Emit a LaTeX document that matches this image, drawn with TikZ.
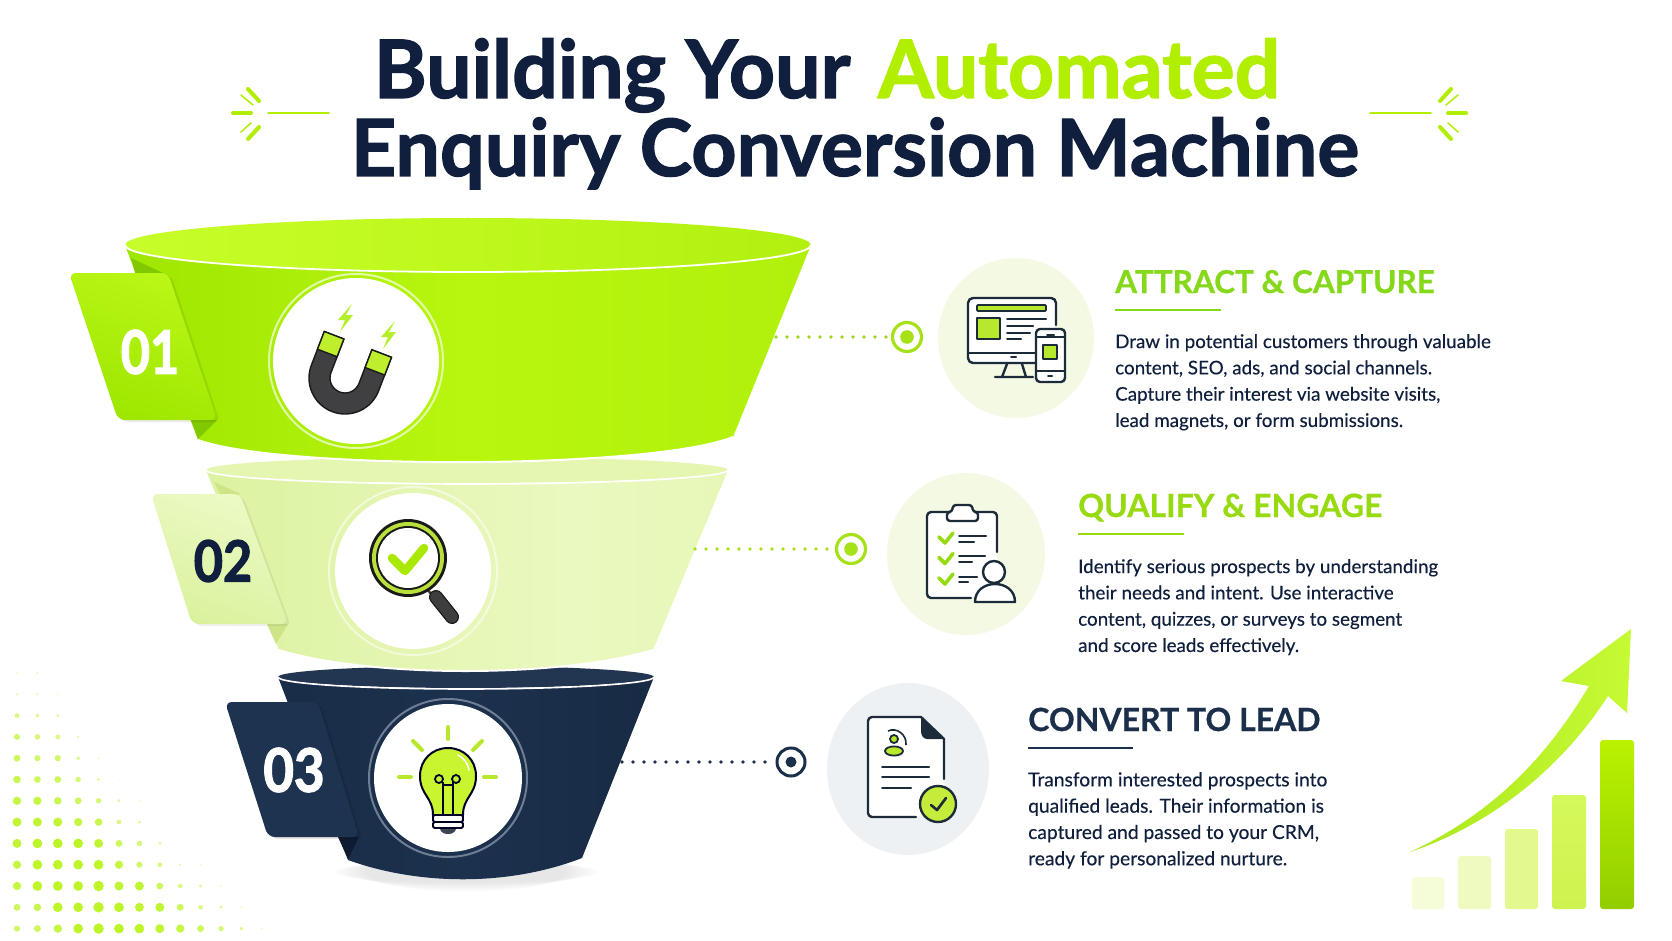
\documentclass[tikz,border=0pt]{standalone}
\usepackage{fontspec}
\setmainfont{Lato}
\newfontfamily\titlef{Lato}[BoldFeatures={FakeBold=1.6}]
\newfontfamily\headf{Lato}[BoldFeatures={FakeBold=0.6}]
\newfontfamily\numf{Lato}[BoldFeatures={FakeBold=2.2}]
\newfontfamily\bodyf{Lato}[FakeBold=0.3]
\usetikzlibrary{calc,shapes.geometric}
\definecolor{navy}{HTML}{0F1F3D}
\definecolor{fnavy}{HTML}{1B2F4B}
\definecolor{icn}{HTML}{1C2B3A}
\definecolor{limeA}{HTML}{B2EE00}
\definecolor{lineG}{HTML}{A6E11A}
\definecolor{headA}{HTML}{86D81A}
\definecolor{headB}{HTML}{97DA10}
\definecolor{paleA}{HTML}{F4F9E4}
\definecolor{paleC}{HTML}{EEF1F4}
\definecolor{iconL}{HTML}{B7E82C}
\definecolor{foa}{HTML}{8EDB00}
\definecolor{fob}{HTML}{9FE600}
\definecolor{foc}{HTML}{B8F60F}
\definecolor{fod}{HTML}{B0F00A}
\definecolor{foe}{HTML}{7DD000}
\definecolor{fta}{HTML}{D6EE92}
\definecolor{ftb}{HTML}{DEF3A5}
\definecolor{ftc}{HTML}{EAF9C0}
\definecolor{ftd}{HTML}{E4F6B2}
\definecolor{fte}{HTML}{D4EE8C}
\definecolor{fha}{HTML}{162842}
\definecolor{fhb}{HTML}{1C314D}
\definecolor{fhc}{HTML}{14243C}
\pgfdeclarehorizontalshading{fone}{100bp}{color(0bp)=(foa);color(25bp)=(fob);color(50bp)=(foc);color(75bp)=(fod);color(100bp)=(foe)}
\pgfdeclarehorizontalshading{ftwo}{100bp}{color(0bp)=(fta);color(30bp)=(ftb);color(60bp)=(ftc);color(85bp)=(ftd);color(100bp)=(fte)}
\pgfdeclarehorizontalshading{fthree}{100bp}{color(0bp)=(fha);color(50bp)=(fhb);color(100bp)=(fhc)}
\tikzset{
  x=1pt,y=-1pt,
  hd/.style={anchor=base west,inner sep=0},
  bodytxt/.style={font=\bodyf\fontsize{18.8}{26.3}\selectfont,anchor=north west,inner sep=0,align=left,text=navy},
  numtxt/.style={font=\numf\fontsize{60}{64}\bfseries\selectfont,inner sep=0},
  titletxt/.style={inner sep=0,anchor=base,text=navy},
  dots/.style={line width=3.8pt,line cap=round,dash pattern=on 0pt off 11pt},
  ic/.style={draw=icn,line width=2.4pt,line cap=round,line join=round},
  spark/.style={draw=limeA,line cap=round},
  rayst/.style={draw=iconL,line width=4pt,line cap=round},
}
\begin{document}
\begin{tikzpicture}
\useasboundingbox (0,0) rectangle (1672,941);
\fill[white] (0,0) rectangle (1672,941);
% halftone
\foreach \row [count=\j from 0] in {{2,2,1},{3,3,2},{6,5,4,1},{8,7,6,3},{9,8,8,5,2},{10,9,9,7,4,1},{11,11,10,9,7,4,2},{12,12,12,11,10,6,4},{12,13,13,13,12,9,7,4,1},{11,13,13,13,13,11,8,6,3,2},{11,13,13,13,14,12,12,9,6,4,2},{9,10,13,13,14,13,12,12,9,6,4,2,1},{8,9,11,13,14,13,13,12,11,9,7,5,2,1}}{
  \foreach \r [count=\i from 0] in \row {
    \pgfmathsetmacro{\op}{min(1,0.22+\r/13*0.78)}
    \fill[color={rgb,255:red,190;green,245;blue,40},opacity=\op] ({17+20.4*\i},{673+21.3*\j}) circle ({\r/2.8+0.2});
  }
}
% title
\node[titletxt,font=\titlef\fontsize{80.5}{82}\bfseries\selectfont] (t1) at (827,98) {Building Your\hspace{0.1em} {\color{limeA}Automated}};
\node[titletxt,font=\titlef\fontsize{79}{82}\bfseries\selectfont] (t2) at (855,176) {Enquiry Conversion Machine};
% sparks left
\draw[spark,line width=4pt] (248,89)--(259,101);
\draw[spark,line width=1.5pt] (241,95)--(253,105);
\draw[spark,line width=4pt] (233,113)--(251,113);
\draw[spark,line width=1.5pt] (241,132)--(251,123);
\draw[spark,line width=4pt] (248,139)--(259,127);
\draw[spark,line width=1.5pt] (268,113)--(329,113);
% sparks right
\draw[spark,line width=4pt] (1451,89)--(1440,101);
\draw[spark,line width=1.5pt] (1458,95)--(1446,105);
\draw[spark,line width=4pt] (1466,113)--(1448,113);
\draw[spark,line width=1.5pt] (1458,132)--(1448,123);
\draw[spark,line width=4pt] (1451,139)--(1440,127);
\draw[spark,line width=1.5pt] (1431,113)--(1370,113);
% shadow below funnel 3
\foreach \k in {0,...,11}{\fill[black,opacity=0.007] (466,{872}) ellipse [x radius={100+3*\k},y radius={20-\k*0.8}];}
% funnel 3
\shade[shading=fthree] (278,677) arc[start angle=180,end angle=0,x radius=188,y radius=12] -- (582,858) .. controls (510,886) and (420,886) .. (348,860) -- cycle;
\fill[color={rgb,255:red,34;green,54;blue,82}] (466,677) ellipse [x radius=188,y radius=11];
\draw[white,line width=1.6pt] (278,677) arc[start angle=180,end angle=0,x radius=188,y radius=12];
\fill[color={rgb,255:red,14;green,28;blue,50}] (338,837)--(359,837)--(348,859)--cycle;
% funnel 2
\shade[shading=ftwo] (206,470) arc[start angle=180,end angle=0,x radius=261,y radius=14] -- (653,650) .. controls (560,678) and (370,678) .. (279,650) -- cycle;
\draw[white,line width=2pt] (653,650) .. controls (560,678) and (370,678) .. (279,650);
\fill[color={rgb,255:red,228;green,246;blue,176}] (467,470) ellipse [x radius=261,y radius=13];
\draw[white,line width=1.6pt] (206,470) arc[start angle=180,end angle=0,x radius=261,y radius=14];
\fill[color={rgb,255:red,205;green,228;blue,135}] (214,482)--(241,494)--(222,498)--cycle;
\fill[color={rgb,255:red,205;green,228;blue,135}] (267,624)--(288,624)--(276,644)--cycle;
% funnel 1
\shade[shading=fone] (125,245) arc[start angle=180,end angle=0,x radius=343,y radius=27] -- (733,437) .. controls (650,470) and (280,470) .. (198,440) -- cycle;
\draw[white,line width=2pt] (733,437) .. controls (650,470) and (280,470) .. (198,440);
\shade[left color={rgb,255:red,199;green,253;blue,42},right color={rgb,255:red,178;green,240;blue,16},middle color={rgb,255:red,190;green,248;blue,28}] (468,245) ellipse [x radius=343,y radius=27];
\draw[white,line width=1.8pt] (125,245) arc[start angle=180,end angle=0,x radius=343,y radius=27];
\fill[color={rgb,255:red,130;green,200;blue,0}] (131,258)--(163,273)--(136,276)--cycle;
\fill[color={rgb,255:red,130;green,200;blue,0}] (191,420)--(217,420)--(198,439)--cycle;
% tabs
\fill[black,opacity=0.08,rounded corners=7pt] (73,275)--(171,275)--(220,422)--(121,422)--cycle;
\shade[rounded corners=7pt,left color={rgb,255:red,186;green,247;blue,22},right color={rgb,255:red,158;green,230;blue,0},shading angle=-20] (69,273)--(168,273)--(217,420)--(118,420)--cycle;
\node[numtxt,text=white] (n1) at (150,352) {\scalebox{0.84}[1]{01}};
\fill[black,opacity=0.06,rounded corners=7pt] (154,496)--(243,496)--(291,626)--(195,626)--cycle;
\shade[rounded corners=7pt,left color={rgb,255:red,236;green,250;blue,198},right color={rgb,255:red,218;green,242;blue,158},shading angle=-20] (151,494)--(240,494)--(288,624)--(192,624)--cycle;
\node[numtxt,text=navy] (n2) at (223,561) {\scalebox{0.84}[0.95]{02}};
\fill[black,opacity=0.10,rounded corners=7pt] (228,704)--(321,704)--(362,839)--(271,839)--cycle;
\fill[color={rgb,255:red,30;green,51;blue,79},rounded corners=7pt] (225,702)--(318,702)--(359,837)--(268,837)--cycle;
\node[numtxt,text=white] (n3) at (294,770) {\scalebox{0.88}[1]{03}};
% icon discs on funnel
\node[circle,fill=white,minimum size=166pt,inner sep=0] (c1) at (356,361) {};
\draw[white,opacity=0.65,line width=2pt] (356,361) circle (87);
\node[circle,fill=white,minimum size=156pt,inner sep=0] (c2) at (413,571) {};
\draw[white,opacity=0.55,line width=2pt] (413,571) circle (84);
\node[circle,fill=white,minimum size=148pt,inner sep=0] (c3) at (448,778) {};
\draw[color={rgb,255:red,110;green,126;blue,148},line width=2pt] (448,778) circle (79);
% magnet
\begin{scope}[shift={(345,378)},rotate=-21]
\filldraw[fill={rgb,255:red,64;green,64;blue,66},draw={rgb,255:red,26;green,26;blue,26},line width=1.4pt,line join=round] (-36,-36) -- (-36,0) .. controls (-36,19.9) and (-19.9,36) .. (0,36) .. controls (19.9,36) and (36,19.9) .. (36,0) -- (36,-36) -- (15,-36) -- (15,0) .. controls (15,8.3) and (8.3,15) .. (0,15) .. controls (-8.3,15) and (-15,8.3) .. (-15,0) -- (-15,-36) -- cycle;
\filldraw[fill={rgb,255:red,190;green,238;blue,44},draw={rgb,255:red,26;green,26;blue,26},line width=1.4pt] (-36,-36) rectangle (-15,-17);
\filldraw[fill={rgb,255:red,190;green,238;blue,44},draw={rgb,255:red,26;green,26;blue,26},line width=1.4pt] (15,-36) rectangle (36,-17);
\end{scope}
\foreach \bx/\by in {345/318,388/335}{
  \fill[color={rgb,255:red,181;green,238;blue,43}] ({\bx+7},{\by-14})--({\bx-7},{\by+2})--({\bx},{\by+2})--({\bx-5},{\by+14})--({\bx+8},{\by-3})--({\bx+1},{\by-3})--cycle;
}
% magnifier
\draw[color={rgb,255:red,58;green,58;blue,58},line width=2.4pt] (425,587)--(433,596);
\draw[color={rgb,255:red,26;green,26;blue,26},line width=14pt,line cap=round] (436,597)--(452,617);
\draw[color={rgb,255:red,62;green,62;blue,62},line width=11.5pt,line cap=round] (436,597)--(452,617);
\fill[color={rgb,255:red,26;green,26;blue,26}] (408,558) circle (39);
\fill[color={rgb,255:red,185;green,224;blue,58}] (408,558) circle (36);
\fill[color={rgb,255:red,26;green,26;blue,26}] (408,558) circle (32);
\fill[white] (408,558) circle (30);
\draw[color={rgb,255:red,170;green,232;blue,0},line width=8.5pt,line cap=round,line join=round] (392,558)--(405,571)--(424,548);
% bulb
\draw[rayst] (448,727)--(448,739);
\draw[rayst] (413,741)--(422,750);
\draw[rayst] (482,741)--(473,750);
\draw[rayst] (399,777)--(411,777);
\draw[rayst] (484,777)--(496,777);
\filldraw[fill={rgb,255:red,200;green,245;blue,48},draw=black!85!blue,line width=2pt] (433,815) .. controls (433,797) and (420,795) .. (420,776) .. controls (420,760) and (432,748) .. (448,748) .. controls (464,748) and (476,760) .. (476,776) .. controls (476,795) and (463,797) .. (463,815) -- cycle;
\draw[white,line width=1.6pt,line cap=round] (458,755) .. controls (464,758) and (468,764) .. (469,770);
\draw[black!85!blue,line width=1.8pt] (439,779) circle (4) (456,779) circle (4);
\draw[black!85!blue,line width=1.8pt] (443,782)--(443,815) (453,782)--(453,815) (443,785)--(453,785);
\filldraw[fill=white,draw=black!85!blue,line width=1.8pt,rounded corners=1.5pt] (433,815) rectangle (463,822);
\filldraw[fill=white,draw=black!85!blue,line width=1.8pt,rounded corners=1.5pt] (433,822) rectangle (463,828);
\fill[color={rgb,255:red,62;green,70;blue,84}] (440,829) -- (456,829) .. controls (455,833) and (451,834) .. (448,834) .. controls (445,834) and (441,833) .. (440,829) -- cycle;
% connectors
\node[circle,draw=lineG,line width=3.2pt,fill=white,minimum size=29pt,inner sep=0] (tg1) at (907,337) {};
\fill[lineG] (tg1.center) circle (6.8);
\coordinate (s1) at (776,337);
\draw[dots,draw=lineG!95!black] (s1) -- (tg1.west);
\node[circle,draw=lineG,line width=3.2pt,fill=white,minimum size=29pt,inner sep=0] (tg2) at (851,549) {};
\fill[lineG] (tg2.center) circle (6.8);
\coordinate (s2) at (695,549);
\draw[dots,draw=lineG] (s2) -- (tg2.west);
\node[circle,draw=fnavy,line width=3pt,fill=white,minimum size=28pt,inner sep=0] (tg3) at (791,762) {};
\fill[fnavy] (tg3.center) circle (5.5);
\coordinate (s3) at (622,762);
\draw[dots,draw=fnavy] (s3) -- (tg3.west);
% big discs
\node[ellipse,fill=paleA,minimum width=156pt,minimum height=160pt,inner sep=0] (d1) at (1016,338) {};
\node[ellipse,fill=paleA,minimum width=158pt,minimum height=162pt,inner sep=0] (d2) at (966,554) {};
\node[ellipse,fill=paleC,minimum width=162pt,minimum height=172pt,inner sep=0] (d3) at (908,769) {};
% monitor icon
\fill[white] (969,299) rectangle (1055,362);
\draw[ic] (1056,325)--(1056,303) arc[start angle=0,end angle=-90,radius=5] -- (973,298) arc[start angle=-90,end angle=-180,radius=5] -- (968,358) arc[start angle=180,end angle=90,radius=5] -- (1036,363);
\draw[ic,fill=iconL,line width=1.8pt,rounded corners=1pt] (977,305) rectangle (1046,311);
\draw[ic,fill=iconL,line width=1.8pt] (977,318) rectangle (1000,339);
\draw[ic,line width=2pt] (1007,319)--(1046,319) (1007,326)--(1033,326) (1007,333)--(1030,333) (1007,339)--(1021,339) (968,353)--(1035,353) (1011,357)--(1016,357);
\draw[ic] (1007,364)--(1002,377) (1022,364)--(1026,377) (995,377)--(1033,377);
\draw[ic,fill=white,rounded corners=4pt] (1036,329) rectangle (1065,382);
\draw[ic,line width=2pt] (1047,334.5)--(1054,334.5) (1036,337)--(1065,337) (1036,371)--(1065,371) (1048,376)--(1052,376);
\draw[ic,fill=iconL,line width=1.8pt] (1043,345) rectangle (1057,359);
% clipboard icon
\fill[white] (928,513) rectangle (997,597);
\draw[ic] (997,552)--(997,516) arc[start angle=0,end angle=-90,radius=4] -- (931,512) arc[start angle=-90,end angle=-180,radius=4] -- (927,594) arc[start angle=180,end angle=90,radius=4] -- (971,598);
\draw[ic,fill=white,rounded corners=3pt] (947,512)--(952,512)--(953,505)--(972,505)--(973,512)--(978,512)--(978,521)--(947,521)--cycle;
\foreach \dy in {0,20.5,41}{
  \draw[color=headB,line width=3.6pt,line cap=round,line join=round] (939,{537+\dy})--(945,{543+\dy})--(953,{533+\dy});
}
\draw[ic,line width=2pt] (959,536)--(986,536) (959,542)--(974,542) (959,556)--(985,556) (959,562)--(972,562) (959,577)--(977,577) (959,582)--(968,582);
\draw[ic,fill=white] (994,572) circle (11);
\draw[ic,fill=white] (975,602) .. controls (975,590) and (985,584) .. (995,584) .. controls (1005,584) and (1015,590) .. (1015,602) -- cycle;
% document icon
\fill[white] (869,718) -- (921,718) -- (944,739) -- (944,816) -- (869,816) -- cycle;
\draw[ic] (944,779)--(944,739)--(921,717)--(872,717) arc[start angle=-90,end angle=-180,radius=4] -- (868,813) arc[start angle=180,end angle=90,radius=4] -- (916,817);
\fill[icn,rounded corners=1pt] (921,717)--(944,739)--(928,739) .. controls (923,739) and (921,735) .. (921,730) -- cycle;
\filldraw[fill=iconL,draw=icn,line width=1.8pt] (894,739) circle (4);
\filldraw[fill=iconL,draw=icn,line width=1.8pt] (894,751) ellipse [x radius=9,y radius=4.6];
\draw[icn,line width=1.6pt] (888,731) .. controls (896,727) and (907,734) .. (906,745);
\draw[ic,line width=2pt] (882,767)--(929,767) (882,777)--(929,777) (882,788)--(911,788);
\filldraw[fill={rgb,255:red,197;green,236;blue,58},draw=icn,line width=2.4pt] (938,804) circle (18);
\draw[icn,line width=2.6pt,line cap=round,line join=round] (931,805)--(937,810)--(946,798);
% texts 1
\node[hd,text=headA,font=\headf\fontsize{31.5}{36}\bfseries\selectfont] (h1) at (1115,293) {ATTRACT \& CAPTURE};
\coordinate (u1a) at (1115,310); \coordinate (u1b) at (1221,310);
\draw[headA,line width=2pt] (u1a)--(u1b);
\node[bodytxt] (b1) at (1115,334) {Draw in potential customers through valuable\\content, SEO, ads, and social channels.\\Capture their interest via website visits,\\lead magnets, or form submissions.};
% texts 2
\node[hd,text=headB,font=\headf\fontsize{32}{36}\bfseries\selectfont] (h2) at (1078,517) {QUALIFY \& ENGAGE};
\coordinate (u2a) at (1078,534); \coordinate (u2b) at (1184,534);
\draw[headB,line width=2pt] (u2a)--(u2b);
\node[bodytxt] (b2) at (1078,559) {Identify serious prospects by understanding\\their needs and intent. Use interactive\\content, quizzes, or surveys to segment\\and score leads effectively.};
% texts 3
\node[hd,text=fnavy,font=\headf\fontsize{32}{36}\bfseries\selectfont] (h3) at (1028,731) {CONVERT TO LEAD};
\coordinate (u3a) at (1028,748); \coordinate (u3b) at (1133,748);
\draw[fnavy,line width=2pt] (u3a)--(u3b);
\node[bodytxt,font=\bodyf\fontsize{19.2}{26.3}\selectfont] (b3) at (1028,772) {Transform interested prospects into\\qualified leads. Their information is\\captured and passed to your CRM,\\ready for personalized nurture.};
% chart
\fill[color={rgb,255:red,245;green,252;blue,216},rounded corners=3pt] (1412,877) rectangle (1444,909);
\fill[color={rgb,255:red,238;green,250;blue,192},rounded corners=3pt] (1458,856) rectangle (1491,909);
\fill[color={rgb,255:red,227;green,249;blue,142},rounded corners=3pt] (1505,829) rectangle (1538,909);
\shade[top color={rgb,255:red,212;green,249;blue,90},bottom color={rgb,255:red,206;green,243;blue,80},rounded corners=3pt] (1552,795) rectangle (1586,909);
\shade[top color={rgb,255:red,186;green,242;blue,0},bottom color={rgb,255:red,146;green,206;blue,0},rounded corners=3pt] (1600,740) rectangle (1634,909);
\shade[left color={rgb,255:red,172;green,232;blue,30},right color={rgb,255:red,198;green,250;blue,52}] (1410,852) .. controls (1490,815) and (1545,760) .. (1589,686) -- (1561,681) -- (1631,629) -- (1627,713) -- (1608,696) .. controls (1560,770) and (1490,825) .. (1410,852) -- cycle;
\end{tikzpicture}
\end{document}
